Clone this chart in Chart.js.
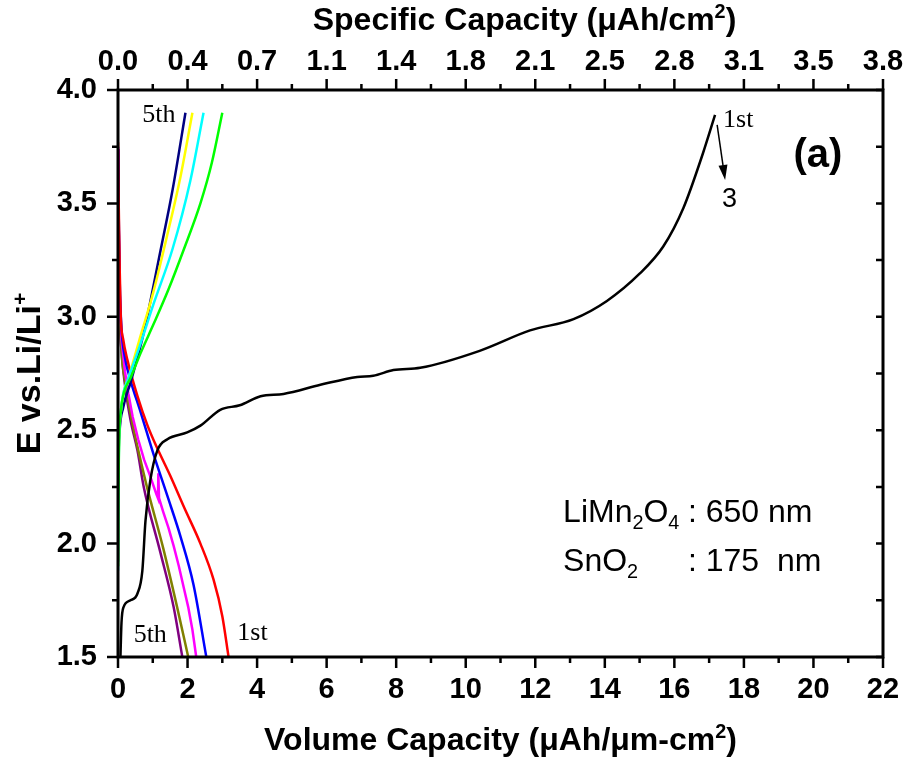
<!DOCTYPE html>
<html>
<head>
<meta charset="utf-8">
<script src="https://cdn.jsdelivr.net/npm/chart.js@4.4.0/dist/chart.umd.min.js"></script>
<style>
  html, body { margin: 0; padding: 0; background: #fff; }
  #wrap { width: 922px; height: 760px; }
</style>
</head>
<body>
<div id="wrap"><canvas id="chart"></canvas></div>
<script>
// tick labels of the top axis (specific capacity), one per bottom major tick
const topTickLabels = ['0.0', '0.4', '0.7', '1.1', '1.4', '1.8', '2.1', '2.5', '2.8', '3.1', '3.5', '3.8'];

// 1st cycle charge (black)
const charge1X = [0.07, 0.1, 0.16, 0.36, 0.56, 0.7, 0.79, 0.93, 1.13, 1.42, 1.99, 2.37, 2.94, 3.5, 4.1, 4.76, 5.82, 6.88, 7.34, 7.92, 8.69, 10.4, 11.85, 13.1, 14.06, 15.0, 15.68, 16.26, 16.82, 17.17];
const charge1Y = [1.5, 1.65, 1.72, 1.75, 1.78, 1.88, 2.1, 2.28, 2.41, 2.46, 2.49, 2.52, 2.59, 2.61, 2.65, 2.66, 2.70, 2.735, 2.74, 2.765, 2.775, 2.85, 2.94, 2.99, 3.07, 3.19, 3.31, 3.48, 3.72, 3.89];

// charge curves, cycles 2-5
const charge2X = [0, 0.01, 0.03, 0.08, 0.18, 0.36, 0.65, 1.03, 1.45, 1.9, 2.37, 2.7, 3.0];
const charge2Y = [1.9, 2.2, 2.45, 2.58, 2.67, 2.73, 2.84, 2.97, 3.12, 3.3, 3.5, 3.68, 3.9];
const charge3X = [0, 0.01, 0.03, 0.08, 0.15, 0.3, 0.6, 1.03, 1.57, 2.08, 2.46];
const charge3Y = [1.88, 2.2, 2.45, 2.58, 2.66, 2.73, 2.86, 3.06, 3.3, 3.6, 3.9];
const charge4X = [0, 0.01, 0.03, 0.08, 0.15, 0.3, 0.6, 1.0, 1.4, 1.8, 2.14];
const charge4Y = [1.9, 2.25, 2.45, 2.58, 2.66, 2.73, 2.89, 3.1, 3.35, 3.62, 3.9];
const charge5X = [0, 0.01, 0.04, 0.15, 0.36, 0.74, 1.22, 1.57, 1.94];
const charge5Y = [1.92, 2.3, 2.48, 2.6, 2.71, 2.93, 3.29, 3.56, 3.9];

// discharge curves, cycles 1-5
const dis1X = [0, 0.02, 0.05, 0.08, 0.15, 0.27, 0.56, 0.85, 1.13, 1.5, 1.9, 2.37, 2.75, 3.0, 3.18];
const dis1Y = [3.77, 3.5, 3.2, 3.0, 2.9, 2.81, 2.65, 2.52, 2.42, 2.3, 2.16, 2.0, 1.84, 1.68, 1.5];
const dis2X = [0, 0.02, 0.05, 0.1, 0.2, 0.36, 0.65, 1.03, 1.42, 1.8, 2.17, 2.54];
const dis2Y = [3.75, 3.45, 3.15, 2.95, 2.82, 2.72, 2.58, 2.39, 2.21, 2.03, 1.82, 1.5];
const dis3X = [0, 0.02, 0.05, 0.1, 0.2, 0.3, 0.42, 0.58, 0.75, 0.92, 1.1, 1.15, 1.16, 1.18, 1.3, 1.45, 1.6, 1.75, 1.9, 2.02, 2.14, 2.25];
const dis3Y = [3.74, 3.4, 3.1, 2.9, 2.76, 2.66, 2.56, 2.46, 2.37, 2.3, 2.22, 2.2, 2.31, 2.2, 2.14, 2.07, 1.99, 1.9, 1.8, 1.72, 1.62, 1.5];
const dis4X = [0, 0.02, 0.05, 0.1, 0.2, 0.39, 0.8, 1.3, 1.7, 2.02];
const dis4Y = [3.73, 3.4, 3.05, 2.85, 2.72, 2.55, 2.27, 1.98, 1.72, 1.5];
const dis5X = [0, 0.02, 0.05, 0.1, 0.2, 0.36, 0.56, 0.74, 1.22, 1.6, 1.85];
const dis5Y = [3.72, 3.35, 3.0, 2.85, 2.7, 2.545, 2.41, 2.25, 1.96, 1.72, 1.5];

function pts(xs, ys) {
  return xs.map((x, i) => ({ x: x, y: ys[i] }));
}

function series(label, xs, ys, color, smooth) {
  const ds = {
    label: label,
    data: pts(xs, ys),
    borderColor: color,
    backgroundColor: color,
    borderWidth: 2.5,
    pointRadius: 0,
    fill: false
  };
  if (smooth !== false) ds.cubicInterpolationMode = 'monotone';
  else ds.tension = 0;
  return ds;
}

const datasets = [
  series('1st charge', charge1X, charge1Y, '#000000'),
  series('2nd charge', charge2X, charge2Y, '#00ff00'),
  series('3rd charge', charge3X, charge3Y, '#00ffff'),
  series('4th charge', charge4X, charge4Y, '#ffff00'),
  series('5th charge', charge5X, charge5Y, '#000080'),
  series('1st discharge', dis1X, dis1Y, '#ff0000'),
  series('2nd discharge', dis2X, dis2Y, '#0000ff'),
  series('3rd discharge', dis3X, dis3Y, '#ff00ff', false),
  series('4th discharge', dis4X, dis4Y, '#808000'),
  series('5th discharge', dis5X, dis5Y, '#800080')
];

// text with sub/superscripts: parts = [[text, mode]], mode 0 normal, 1 sup, -1 sub
function partsWidth(ctx, parts, size, weight, family) {
  let w = 0;
  parts.forEach(p => {
    const s = p[1] === 0 ? size : size * 0.62;
    ctx.font = weight + ' ' + s + 'px ' + family;
    w += ctx.measureText(p[0]).width;
  });
  return w;
}

function drawParts(ctx, parts, x, y, size, weight, family, align) {
  const w = partsWidth(ctx, parts, size, weight, family);
  let cx = align === 'center' ? x - w / 2 : x;
  ctx.textAlign = 'left';
  ctx.textBaseline = 'alphabetic';
  parts.forEach(p => {
    const s = p[1] === 0 ? size : size * 0.62;
    ctx.font = weight + ' ' + s + 'px ' + family;
    let dy = 0;
    if (p[1] === 1) dy = -size * 0.38;
    if (p[1] === -1) dy = size * 0.22;
    ctx.fillText(p[0], cx, y + dy);
    cx += ctx.measureText(p[0]).width;
  });
}

const sans = '"Liberation Sans", Arial, sans-serif';
const serif = '"Liberation Serif", "Times New Roman", serif';

const decorations = {
  id: 'decorations',
  afterDraw(chart) {
    const ctx = chart.ctx;
    const a = chart.chartArea;
    const xs = chart.scales.x;
    const ys = chart.scales.y;
    const px = v => xs.getPixelForValue(v);
    const py = v => ys.getPixelForValue(v);
    ctx.save();
    ctx.strokeStyle = '#000';
    ctx.fillStyle = '#000';

    // frame
    ctx.lineWidth = 3;
    ctx.strokeRect(a.left, a.top, a.right - a.left, a.bottom - a.top);

    // ticks
    ctx.lineWidth = 2.5;
    ctx.beginPath();
    for (let v = 0; v <= 22; v += 1) {
      const len = v % 2 === 0 ? 11 : 6;
      const x = px(v);
      ctx.moveTo(x, a.bottom); ctx.lineTo(x, a.bottom + len);
      ctx.moveTo(x, a.top); ctx.lineTo(x, a.top - len);
    }
    for (let k = 0; k <= 10; k++) {
      const v = 1.5 + k * 0.25;
      const len = k % 2 === 0 ? 11 : 6;
      const y = py(v);
      ctx.moveTo(a.left, y); ctx.lineTo(a.left - len, y);
      ctx.moveTo(a.right, y); ctx.lineTo(a.right - 7, y);
    }
    ctx.stroke();

    // axis titles
    const midX = (a.left + a.right) / 2;
    drawParts(ctx, [['Volume Capacity (\u03bcAh/\u03bcm-cm', 0], ['2', 1], [')', 0]],
      midX, a.bottom + 93, 32, 'bold', sans, 'center');
    drawParts(ctx, [['Specific Capacity (\u03bcAh/cm', 0], ['2', 1], [')', 0]],
      midX + 24, a.top - 60, 32, 'bold', sans, 'center');
    ctx.save();
    ctx.translate(a.left - 78, (a.top + a.bottom) / 2);
    ctx.rotate(-Math.PI / 2);
    drawParts(ctx, [['E vs.Li/Li', 0], ['+', 1]], 0, 0, 34, 'bold', sans, 'center');
    ctx.restore();

    // annotations in data coordinates
    ctx.font = '26px ' + serif;
    ctx.textAlign = 'left';
    ctx.textBaseline = 'alphabetic';
    ctx.fillText('5th', px(0.70), py(3.859));
    ctx.fillText('1st', px(17.40), py(3.837));
    ctx.fillText('5th', px(0.45), py(1.566));
    ctx.fillText('1st', px(3.43), py(1.575));

    ctx.font = '27px ' + sans;
    ctx.fillText('3', px(17.37), py(3.484));

    ctx.font = 'bold 40px ' + sans;
    ctx.textAlign = 'center';
    ctx.fillText('(a)', px(20.13), py(3.66));

    // arrow 1st -> 3
    const x1 = px(17.23), y1 = py(3.846), x2 = px(17.46), y2 = py(3.603);
    const ang = Math.atan2(y2 - y1, x2 - x1);
    ctx.lineWidth = 1.5;
    ctx.beginPath();
    ctx.moveTo(x1, y1);
    ctx.lineTo(x2 - 12 * Math.cos(ang), y2 - 12 * Math.sin(ang));
    ctx.stroke();
    ctx.beginPath();
    ctx.moveTo(x2, y2);
    ctx.lineTo(x2 - 15 * Math.cos(ang) + 4.5 * Math.sin(ang), y2 - 15 * Math.sin(ang) - 4.5 * Math.cos(ang));
    ctx.lineTo(x2 - 15 * Math.cos(ang) - 4.5 * Math.sin(ang), y2 - 15 * Math.sin(ang) + 4.5 * Math.cos(ang));
    ctx.closePath();
    ctx.fill();

    // thickness note
    drawParts(ctx, [['LiMn', 0], ['2', -1], ['O', 0], ['4', -1]], px(12.80), py(2.095), 32, 'normal', sans, 'left');
    drawParts(ctx, [['SnO', 0], ['2', -1]], px(12.80), py(1.879), 32, 'normal', sans, 'left');
    ctx.font = '32px ' + sans;
    ctx.textAlign = 'left';
    ctx.fillText(': 650 nm', px(16.39), py(2.095));
    ctx.fillText(': 175  nm', px(16.39), py(1.879));

    ctx.restore();
  }
};

const tickFont = { family: sans, size: 29, weight: 'bold' };

new Chart(document.getElementById('chart'), {
  type: 'line',
  data: { datasets: datasets },
  options: {
    responsive: true,
    maintainAspectRatio: false,
    animation: false,
    layout: { padding: { left: 0, right: 39, top: 0, bottom: 0 } },
    plugins: {
      legend: { display: false },
      tooltip: { enabled: false }
    },
    scales: {
      x: {
        type: 'linear',
        position: 'bottom',
        min: 0,
        max: 22,
        grid: { display: false, drawTicks: false },
        border: { display: false },
        ticks: { stepSize: 2, font: tickFont, color: '#000', padding: 16, maxRotation: 0 },
        afterFit: s => { s.height = 103; }
      },
      x2: {
        type: 'linear',
        position: 'top',
        min: 0,
        max: 22,
        grid: { display: false, drawTicks: false },
        border: { display: false },
        ticks: {
          stepSize: 2,
          font: tickFont,
          color: '#000',
          padding: 11,
          maxRotation: 0,
          callback: v => topTickLabels[Math.round(v / 2)]
        },
        afterFit: s => { s.height = 90; }
      },
      y: {
        type: 'linear',
        min: 1.5,
        max: 4.0,
        grid: { display: false, drawTicks: false },
        border: { display: false },
        ticks: { stepSize: 0.5, font: tickFont, color: '#000', padding: 21, callback: v => v.toFixed(1) },
        afterFit: s => { s.width = 118; }
      }
    }
  },
  plugins: [decorations]
});
</script>
</body>
</html>
